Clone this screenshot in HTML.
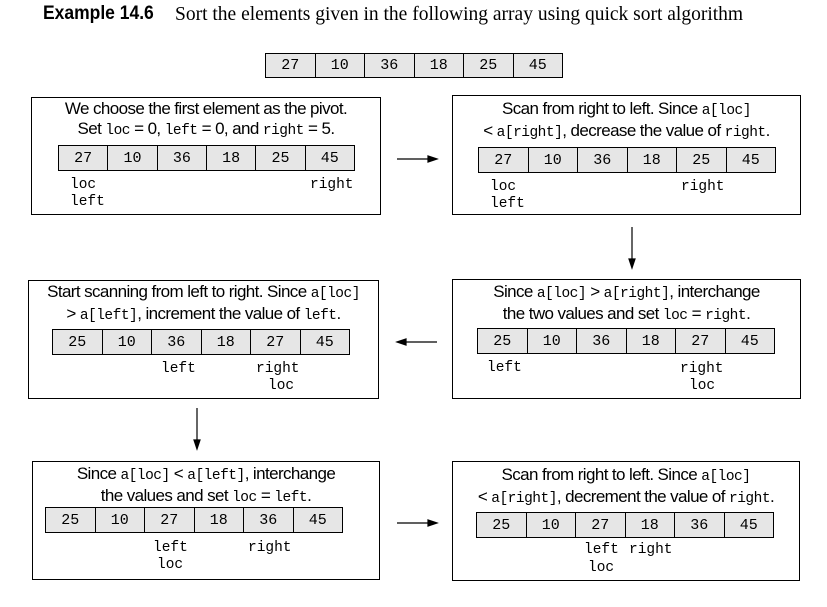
<!DOCTYPE html>
<html><head><meta charset="utf-8"><style>
body{margin:0;width:827px;height:607px;background:#fff;position:relative;overflow:hidden;font-family:"Liberation Sans",sans-serif;color:#000}
.abs{position:absolute}
.box{position:absolute;border:1.5px solid #000;box-sizing:border-box}
.txt{position:absolute;font-size:17px;text-align:center;white-space:nowrap;line-height:20px;letter-spacing:-0.6px}
code,.m{font-family:"Liberation Mono",monospace;font-size:14.5px;letter-spacing:-0.5px}
.arr{position:absolute;display:flex;border:1.2px solid #000;box-sizing:border-box}
.cell{flex:1;background:#e6e6e6;border-right:1.2px solid #000;text-align:center;font-family:"Liberation Mono",monospace;font-size:15px;display:flex;align-items:center;justify-content:center}
.cell:last-child{border-right:none}
.lbl{position:absolute;font-family:"Liberation Mono",monospace;font-size:14.5px;line-height:17px;white-space:nowrap}
</style></head><body>
<div class="abs" style="left:43px;top:3px;white-space:nowrap">
<b style="display:inline-block;font-family:'Liberation Sans Narrow','Liberation Sans',sans-serif;font-size:19px;transform:scaleX(0.92);transform-origin:left">Example 14.6</b><span style="font-family:'Liberation Serif',serif;font-size:19.5px;position:absolute;left:132px;top:1px">Sort the elements given in the following array using quick sort algorithm</span></div>

<div class="box" style="left:31px;top:97px;width:350px;height:118px"></div>
<div class="txt" style="left:31px;top:99px;width:350px">We choose the first element as the pivot.<br>Set <code>loc</code> = 0, <code>left</code> = 0, and <code>right</code> = 5.</div>

<div class="box" style="left:452px;top:95px;width:349px;height:120px"></div>
<div class="txt" style="left:452px;top:99px;width:349px">Scan from right to left. Since <code>a[loc]</code><br>&lt; <code>a[right]</code>, decrease the value of <code>right</code>.</div>

<div class="box" style="left:452px;top:279px;width:349px;height:120px"></div>
<div class="txt" style="left:452px;top:282px;width:349px">Since <code>a[loc]</code> &gt; <code>a[right]</code>, interchange<br>the two values and set <code>loc</code> = <code>right</code>.</div>

<div class="box" style="left:28px;top:280px;width:351px;height:119px"></div>
<div class="txt" style="left:28px;top:282px;width:351px">Start scanning from left to right. Since <code>a[loc]</code><br>&gt; <code>a[left]</code>, increment the value of <code>left</code>.</div>

<div class="box" style="left:32px;top:461px;width:348px;height:119px"></div>
<div class="txt" style="left:32px;top:464px;width:348px">Since <code>a[loc]</code> &lt; <code>a[left]</code>, interchange<br>the values and set <code>loc</code> = <code>left</code>.</div>

<div class="box" style="left:452px;top:461px;width:348px;height:120px"></div>
<div class="txt" style="left:452px;top:465px;width:348px">Scan from right to left. Since <code>a[loc]</code><br>&lt; <code>a[right]</code>, decrement the value of <code>right</code>.</div>

<svg class="abs" style="left:0;top:0" width="827" height="607">
<g stroke="#000" stroke-width="1.2" fill="#000">
<line x1="397" y1="159" x2="432" y2="159"/><polygon points="437,159 428,156 428,162"/>
<line x1="632" y1="227" x2="632" y2="262"/><polygon points="632,268 629,259 635,259"/>
<line x1="437" y1="342" x2="402" y2="342"/><polygon points="397,342 406,339 406,345"/>
<line x1="197" y1="408" x2="197" y2="443"/><polygon points="197,449 194,440 200,440"/>
<line x1="397" y1="523" x2="432" y2="523"/><polygon points="437,523 428,520 428,526"/>
</g></svg>

<div id="root"></div>
<script>
const arrays=[
 [27,10,36,18,25,45],
 [27,10,36,18,25,45],
 [27,10,36,18,25,45],
 [25,10,36,18,27,45],
 [25,10,36,18,27,45],
 [25,10,27,18,36,45],
 [25,10,27,18,36,45]
];
const arrNames=['initial-array','step-1-array','step-2-array','step-3-array','step-4-array','step-5-array','step-6-array'];
const arrPos=[[265,53,298,25],[58,145,297,26],[478,147,298,26],[477,328,298,26],[52,329,298,26],[45,507,298,26],[476,512,298,26]];
const labels=[
 [70,177,'loc'],[70,194,'left'],[310,177,'right'],
 [490,179,'loc'],[490,196,'left'],[681,179,'right'],
 [487,360,'left'],[680,361,'right'],[689,378,'loc'],
 [161,361,'left'],[256,361,'right'],[268,378,'loc'],
 [153,540,'left'],[248,540,'right'],[157,557,'loc'],
 [584,542,'left'],[629,542,'right'],[588,560,'loc']
];
const root=document.getElementById('root');
arrays.forEach((vals,i)=>{
 const a=document.createElement('div');
 a.className='arr';
 
 
 const p=arrPos[i];
 a.style.left=p[0]+'px';a.style.top=p[1]+'px';a.style.width=p[2]+'px';a.style.height=p[3]+'px';
 vals.forEach(v=>{
  const c=document.createElement('div');
  c.className='cell';
  
  
  c.textContent=v;
  a.appendChild(c);
 });
 root.appendChild(a);
});
labels.forEach(l=>{
 const d=document.createElement('div');
 d.className='lbl';
 
 
 d.style.left=l[0]+'px';d.style.top=l[1]+'px';
 d.textContent=l[2];
 root.appendChild(d);
});
</script>
</body></html>
